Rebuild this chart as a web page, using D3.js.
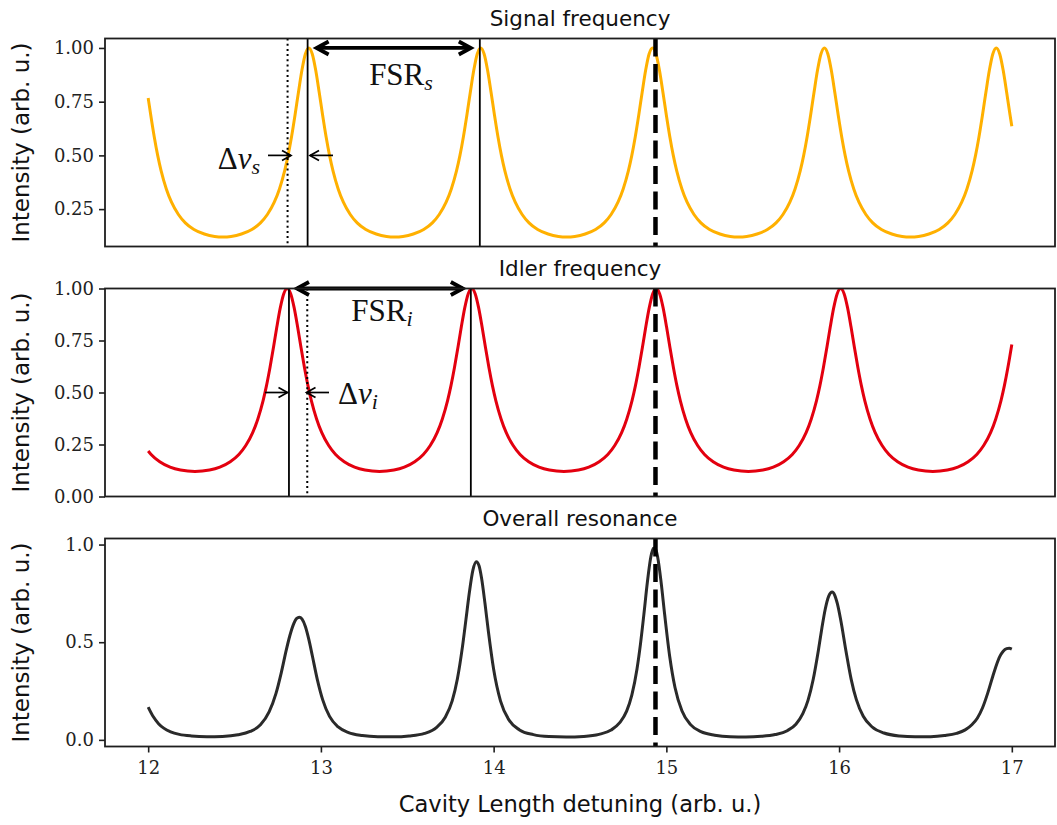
<!DOCTYPE html>
<html><head><meta charset="utf-8">
<script src="https://cdn.jsdelivr.net/npm/d3@7/dist/d3.min.js"></script>
<style>body{margin:0;background:#fff}svg{display:block}</style>
</head><body>
<svg id="chart" width="1057" height="825"></svg>
<script>
// ---- data ----
const sigX=[12.000,12.015,12.035,12.055,12.075,12.105,12.135,12.175,12.215,12.265,12.325,12.385,12.4325,
12.48,12.54,12.60,12.65,12.69,12.73,12.76,12.79,12.81,12.83,12.85,12.87,12.89,12.91,12.93,
12.95,12.97,12.99,13.01,13.03,13.05,13.07,13.10,13.13,13.17,13.21,13.26,13.32,13.38,13.4275,
13.475,13.535,13.595,13.645,13.685,13.725,13.755,13.785,13.805,13.825,13.845,13.865,13.885,13.905,13.925,
13.945,13.965,13.985,14.005,14.025,14.045,14.065,14.095,14.125,14.165,14.205,14.255,14.315,14.375,14.4225,
14.47,14.53,14.59,14.64,14.68,14.72,14.75,14.78,14.80,14.82,14.84,14.86,14.88,14.90,14.92,
14.94,14.96,14.98,15.00,15.02,15.04,15.06,15.09,15.12,15.16,15.20,15.25,15.31,15.37,15.4175,
15.465,15.525,15.585,15.635,15.675,15.715,15.745,15.775,15.795,15.815,15.835,15.855,15.875,15.895,15.915,
15.935,15.955,15.975,15.995,16.015,16.035,16.055,16.085,16.115,16.155,16.195,16.245,16.305,16.365,16.4125,
16.46,16.52,16.58,16.63,16.67,16.71,16.74,16.77,16.79,16.81,16.83,16.85,16.87,16.89,16.91,
16.93,16.95,16.97,16.99,17.00];
const sigY=[0.767,0.687,0.587,0.500,0.428,0.344,0.282,0.225,0.186,0.155,0.134,0.123,0.1205,
0.123,0.134,0.155,0.186,0.225,0.282,0.344,0.428,0.500,0.587,0.687,0.794,0.896,0.972,1.000,
0.972,0.896,0.794,0.687,0.587,0.500,0.428,0.344,0.282,0.225,0.186,0.155,0.134,0.123,0.1205,
0.123,0.134,0.155,0.186,0.225,0.282,0.344,0.428,0.500,0.587,0.687,0.794,0.896,0.972,1.000,
0.972,0.896,0.794,0.687,0.587,0.500,0.428,0.344,0.282,0.225,0.186,0.155,0.134,0.123,0.1205,
0.123,0.134,0.155,0.186,0.225,0.282,0.344,0.428,0.500,0.587,0.687,0.794,0.896,0.972,1.000,
0.972,0.896,0.794,0.687,0.587,0.500,0.428,0.344,0.282,0.225,0.186,0.155,0.134,0.123,0.1205,
0.123,0.134,0.155,0.186,0.225,0.282,0.344,0.428,0.500,0.587,0.687,0.794,0.896,0.972,1.000,
0.972,0.896,0.794,0.687,0.587,0.500,0.428,0.344,0.282,0.225,0.186,0.155,0.134,0.123,0.1205,
0.123,0.134,0.155,0.186,0.225,0.282,0.344,0.428,0.500,0.587,0.687,0.794,0.896,0.972,1.000,
0.972,0.896,0.794,0.687,0.636];

const idlX=[12.000,12.017,12.067,12.127,12.187,12.271,
12.355,12.415,12.475,12.525,12.565,12.605,12.635,12.665,12.685,12.705,12.725,12.745,12.765,12.785,12.805,
12.825,12.845,12.865,12.885,12.905,12.925,12.945,12.975,13.005,13.045,13.085,13.135,13.195,13.255,13.339,
13.423,13.483,13.543,13.593,13.633,13.673,13.703,13.733,13.753,13.773,13.793,13.813,13.833,13.853,13.873,
13.893,13.913,13.933,13.953,13.973,13.993,14.013,14.043,14.073,14.113,14.153,14.203,14.263,14.323,14.407,
14.491,14.551,14.611,14.661,14.701,14.741,14.771,14.801,14.821,14.841,14.861,14.881,14.901,14.921,14.941,
14.961,14.981,15.001,15.021,15.041,15.061,15.081,15.111,15.141,15.181,15.221,15.271,15.331,15.391,15.475,
15.559,15.619,15.679,15.729,15.769,15.809,15.839,15.869,15.889,15.909,15.929,15.949,15.969,15.989,16.009,
16.029,16.049,16.069,16.089,16.109,16.129,16.149,16.179,16.209,16.249,16.289,16.339,16.399,16.459,16.543,
16.627,16.687,16.747,16.797,16.837,16.877,16.907,16.937,16.957,16.977,17.000];
const idlY=[0.219,0.202,0.167,0.141,0.127,0.1205,
0.127,0.141,0.167,0.202,0.245,0.307,0.373,0.460,0.533,0.619,0.715,0.816,0.908,0.975,1.000,
0.975,0.908,0.816,0.715,0.619,0.533,0.460,0.373,0.307,0.245,0.202,0.167,0.141,0.127,0.1205,
0.127,0.141,0.167,0.202,0.245,0.307,0.373,0.460,0.533,0.619,0.715,0.816,0.908,0.975,1.000,
0.975,0.908,0.816,0.715,0.619,0.533,0.460,0.373,0.307,0.245,0.202,0.167,0.141,0.127,0.1205,
0.127,0.141,0.167,0.202,0.245,0.307,0.373,0.460,0.533,0.619,0.715,0.816,0.908,0.975,1.000,
0.975,0.908,0.816,0.715,0.619,0.533,0.460,0.373,0.307,0.245,0.202,0.167,0.141,0.127,0.1205,
0.127,0.141,0.167,0.202,0.245,0.307,0.373,0.460,0.533,0.619,0.715,0.816,0.908,0.975,1.000,
0.975,0.908,0.816,0.715,0.619,0.533,0.460,0.373,0.307,0.245,0.202,0.167,0.141,0.127,0.1205,
0.127,0.141,0.167,0.202,0.245,0.307,0.373,0.460,0.533,0.619,0.731];

const ovX=[12.00,12.03,12.06,12.09,12.13,12.18,12.25,12.34,12.43,12.52,12.59,12.65,12.70,12.74,12.77,12.80,12.82,12.84,12.86,12.875,12.89,12.91,12.93,12.95,12.98,
13.01,13.05,13.10,13.16,13.24,13.33,13.42,13.51,13.60,13.67,13.72,13.76,13.79,13.82,13.84,13.86,13.88,13.90,13.915,13.93,13.95,13.97,
14.00,14.04,14.09,14.15,14.23,14.32,14.42,14.52,14.61,14.68,14.73,14.77,14.80,14.83,14.85,14.87,14.89,14.91,14.925,14.935,14.95,14.97,14.99,
15.02,15.05,15.09,15.14,15.20,15.28,15.37,15.46,15.55,15.63,15.70,15.75,15.79,15.82,15.85,15.88,15.90,15.92,15.94,15.96,15.975,15.99,
16.01,16.04,16.07,16.10,16.14,16.19,16.26,16.35,16.44,16.53,16.61,16.68,16.73,16.77,16.80,16.83,16.86,16.89,16.91,16.93,16.95,16.97,16.985,17.00];
const ovY=[0.168,0.118,0.083,0.060,0.041,0.028,0.020,0.0165,0.0178,0.0259,0.043,0.077,0.143,0.238,0.342,0.462,0.533,0.589,0.622,0.628,0.619,0.580,0.514,0.432,0.306,
0.206,0.120,0.066,0.037,0.022,0.016,0.0153,0.0197,0.033,0.064,0.116,0.200,0.312,0.480,0.618,0.758,0.869,0.912,0.893,0.829,0.698,0.552,
0.361,0.198,0.100,0.051,0.027,0.017,0.0145,0.0176,0.028,0.050,0.088,0.147,0.229,0.363,0.490,0.644,0.807,0.936,0.981,0.982,0.934,0.804,0.643,
0.423,0.268,0.149,0.078,0.042,0.024,0.016,0.0148,0.018,0.027,0.047,0.080,0.134,0.202,0.309,0.458,0.570,0.670,0.736,0.757,0.740,0.697,
0.611,0.454,0.310,0.206,0.121,0.067,0.035,0.020,0.016,0.0165,0.022,0.033,0.051,0.079,0.111,0.163,0.238,0.326,0.381,0.426,0.454,0.467,0.469,0.465];

const xTicks=[12,13,14,15,16,17];
const yTicksSig=[0.25,0.50,0.75,1.00];
const yTicksIdl=[0.00,0.25,0.50,0.75,1.00];
const yTicksOv=[0.0,0.5,1.0];
const titles=["Signal frequency","Idler frequency","Overall resonance"];
const yLabel="Intensity (arb. u.)";
const xLabel="Cavity Length detuning (arb. u.)";
const resonanceX=14.937;
const sigMarks={dotted:12.807, peakA:12.923, peakB:13.920};
const idlMarks={dotted:12.921, peakA:12.815, peakB:13.868};

// ---- drawing ----
const svg=d3.select("#chart");
const x=d3.scaleLinear().domain([11.75,17.25]).range([105,1055]);
const panels=[
 {top:38.5,bottom:246.5,dom:[0.076,1.044],ticks:yTicksSig,fmt:d3.format(".2f"),xs:sigX,ys:sigY,color:"#FFB000",title:titles[0]},
 {top:288.5,bottom:496.5,dom:[0,1],ticks:yTicksIdl,fmt:d3.format(".2f"),xs:idlX,ys:idlY,color:"#E3000F",title:titles[1]},
 {top:538.5,bottom:746.5,dom:[-0.034,1.031],ticks:yTicksOv,fmt:d3.format(".1f"),xs:ovX,ys:ovY,color:"#2A2A2A",title:titles[2]}
];
const defs=svg.append("defs");
const SP="#1e1e1e";
const tickFont="DejaVu Serif";
const mathFont="Liberation Serif";

panels.forEach((p,i)=>{
  const y=d3.scaleLinear().domain(p.dom).range([p.bottom,p.top]);
  p.y=y;
  defs.append("clipPath").attr("id","clip"+i).append("rect")
    .attr("x",x.range()[0]).attr("y",p.top).attr("width",x.range()[1]-x.range()[0]).attr("height",p.bottom-p.top);
  const g=svg.append("g");
  const pts=p.xs.map((v,k)=>[v,p.ys[k]]);
  g.append("path").datum(pts).attr("clip-path","url(#clip"+i+")")
    .attr("fill","none").attr("stroke",p.color).attr("stroke-width",3).attr("stroke-linejoin","round")
    .attr("d",d3.line().x(d=>x(d[0])).y(d=>y(d[1])).curve(d3.curveMonotoneX));
  const ya=d3.axisLeft(y).tickValues(p.ticks).tickFormat(p.fmt).tickSize(6).tickPadding(5);
  const yg=g.append("g").attr("transform","translate("+x.range()[0]+",0)").call(ya);
  yg.select(".domain").remove();
  yg.selectAll(".tick line").attr("stroke",SP).attr("stroke-width",1.6);
  yg.selectAll(".tick text").attr("font-family",tickFont).attr("font-size",18).attr("fill","#222");
  if(i===2){
    const xa=d3.axisBottom(x).tickValues(xTicks).tickFormat(d3.format("d")).tickSize(6).tickPadding(9);
    const xg=g.append("g").attr("transform","translate(0,"+p.bottom+")").call(xa);
    xg.select(".domain").remove();
    xg.selectAll(".tick line").attr("stroke",SP).attr("stroke-width",1.6);
    xg.selectAll(".tick text").attr("font-family",tickFont).attr("font-size",18).attr("fill","#222");
  }
  g.append("text").attr("x",(x.range()[0]+x.range()[1])/2).attr("y",p.top-13)
    .attr("text-anchor","middle").attr("font-family","DejaVu Sans").attr("font-size",21.5).attr("fill","#111").text(p.title);
  g.append("text").attr("transform","translate(29,"+((p.top+p.bottom)/2)+") rotate(-90)")
    .attr("text-anchor","middle").attr("font-family","DejaVu Sans").attr("font-size",23).attr("fill","#111").text(yLabel);
  p.g=g;
});

function vline(p,xv,kind){
  const l=p.g.append("line").attr("x1",x(xv)).attr("x2",x(xv)).attr("y1",p.top).attr("y2",p.bottom).attr("stroke","#000");
  if(kind==="solid") l.attr("stroke-width",1.8);
  if(kind==="dotted") l.attr("stroke-width",2).attr("stroke-dasharray","2,3.2");
  if(kind==="dashed") l.attr("stroke-width",4.5).attr("stroke-dasharray","18,7.5");
}
function arrowHead(g,tx,ty,dir,len,half,w){
  g.append("path").attr("d","M"+(tx+dir*len)+","+(ty-half)+"L"+tx+","+ty+"L"+(tx+dir*len)+","+(ty+half))
   .attr("fill","none").attr("stroke","#000").attr("stroke-width",w).attr("stroke-linejoin","miter").attr("stroke-linecap","butt");
}
function dblArrow(p,x1,x2,yv){
  const y0=p.y(yv);
  p.g.append("line").attr("x1",x1+2).attr("x2",x2-2).attr("y1",y0).attr("y2",y0).attr("stroke","#000").attr("stroke-width",3.8);
  arrowHead(p.g,x1+2,y0,1,12,6.5,3.8);
  arrowHead(p.g,x2-2,y0,-1,12,6.5,3.8);
}
function sArrow(p,xfrom,xto,yv){
  const y0=p.y(yv);
  p.g.append("line").attr("x1",xfrom).attr("x2",xto).attr("y1",y0).attr("y2",y0).attr("stroke","#000").attr("stroke-width",1.7);
  const dir=xfrom<xto?-1:1;
  arrowHead(p.g,xto,y0,dir,9,5,1.7);
}
function mathText(p,xp,yp,anchor,main,sub,isDelta){
  const t=p.g.append("text").attr("x",xp).attr("y",yp).attr("text-anchor",anchor)
    .attr("font-family",mathFont).attr("font-size",31).attr("fill","#111");
  if(isDelta){
    t.append("tspan").text("Δ");
    t.append("tspan").attr("font-style","italic").text("ν");
  } else t.append("tspan").text(main);
  t.append("tspan").attr("font-style","italic").attr("font-size",22).attr("dy",5).text(sub);
}

const P1=panels[0],P2=panels[1],P3=panels[2];
vline(P1,sigMarks.dotted,"dotted");
vline(P1,sigMarks.peakA,"solid");
vline(P1,sigMarks.peakB,"solid");
vline(P1,resonanceX,"dashed");
dblArrow(P1,x(sigMarks.peakA)+7,x(sigMarks.peakB)-7,1.0);
mathText(P1,401,85,"middle","FSR","s",false);
sArrow(P1,268,291,0.5);
sArrow(P1,333,310,0.5);
mathText(P1,260,169,"end","","s",true);

vline(P2,idlMarks.peakA,"solid");
vline(P2,idlMarks.dotted,"dotted");
vline(P2,idlMarks.peakB,"solid");
vline(P2,resonanceX,"dashed");
dblArrow(P2,x(idlMarks.peakA)+6,x(idlMarks.peakB)-6,1.0);
mathText(P2,382,321,"middle","FSR","i",false);
sArrow(P2,265,287.5,0.5);
sArrow(P2,329,306.5,0.5);
mathText(P2,338,404,"start","","i",true);

vline(P3,resonanceX,"dashed");

panels.forEach(p=>{
  p.g.append("rect").attr("x",x.range()[0]).attr("y",p.top).attr("width",x.range()[1]-x.range()[0]).attr("height",p.bottom-p.top)
   .attr("fill","none").attr("stroke",SP).attr("stroke-width",1.8);
});
svg.append("text").attr("x",(x.range()[0]+x.range()[1])/2).attr("y",812).attr("text-anchor","middle")
  .attr("font-family","DejaVu Sans").attr("font-size",22.6).attr("fill","#111").text(xLabel);
</script>
</body></html>
